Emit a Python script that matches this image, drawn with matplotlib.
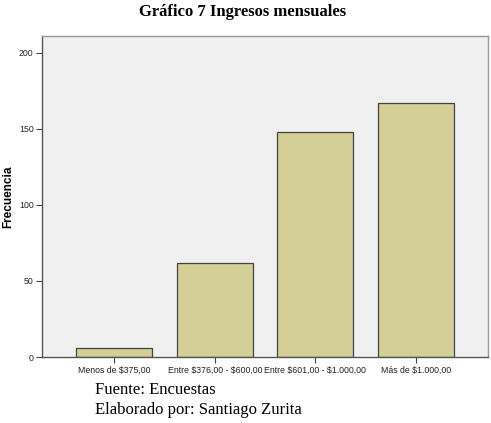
import matplotlib.pyplot as plt

plt.rcParams["text.parse_math"] = False

# Datos del gráfico
categorias = ["Menos de $375,00", "Entre $376,00 - $600,00",
              "Entre $601,00 - $1.000,00", "Más de $1.000,00"]
frecuencias = [6, 62, 148, 167]
ticks_y = [0, 50, 100, 150, 200]

fig = plt.figure(figsize=(4.91, 4.23), dpi=100)
ax = fig.add_axes([0.0855, 0.156, 0.9085, 0.759])
ax.set_facecolor("#f0f0f0")

x = range(len(categorias))
ax.bar(x, frecuencias, width=0.76, color="#d3cf96", edgecolor="#444444", linewidth=0.9)

ax.set_xlim(-0.72, 3.72)
ax.set_ylim(0, 211)
ax.set_xticks(list(x))
ax.set_xticklabels(categorias, fontsize=6.3, family="Liberation Sans", color="#222222")
ax.set_yticks(ticks_y)
ax.set_yticklabels([str(t) for t in ticks_y], fontsize=6.3, family="Liberation Sans", color="#222222")
ax.tick_params(axis="both", direction="out", length=4, width=0.8, color="#444444", pad=2)

for lado in ["left", "bottom"]:
    ax.spines[lado].set_color("#555555")
    ax.spines[lado].set_linewidth(1.0)
for lado in ["top", "right"]:
    ax.spines[lado].set_color("#999999")
    ax.spines[lado].set_linewidth(1.0)

ax.set_ylabel("Frecuencia", fontsize=8.5, fontweight="bold", family="Liberation Sans")
ax.yaxis.set_label_coords(-0.062, 0.5)

fig.text(0.495, 0.972, "Gráfico 7 Ingresos mensuales", ha="center", va="center",
         fontsize=12, fontweight="bold", family="Liberation Serif")
fig.text(0.193, 0.078, "Fuente: Encuestas", ha="left", va="center",
         fontsize=12, family="Liberation Serif")
fig.text(0.193, 0.031, "Elaborado por: Santiago Zurita", ha="left", va="center",
         fontsize=12, family="Liberation Serif")

fig.savefig("out.png", dpi=100)
